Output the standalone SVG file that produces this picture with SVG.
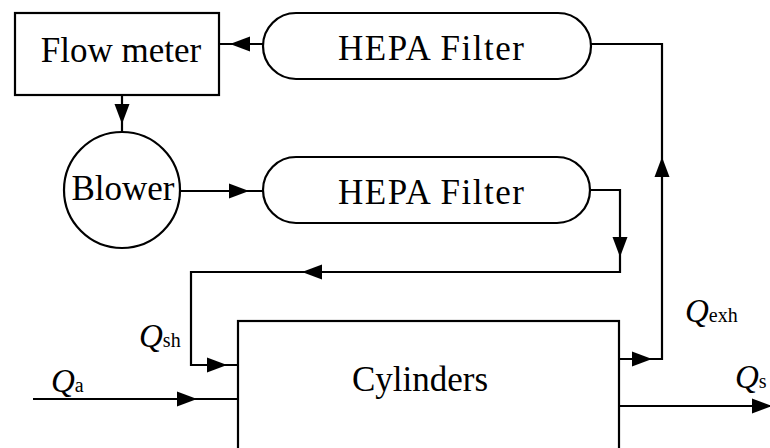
<svg xmlns="http://www.w3.org/2000/svg" xmlns:xlink="http://www.w3.org/1999/xlink" width="770" height="448" viewBox="0 0 770 448">
<style>
.box{fill:#fff;stroke:#000;stroke-width:2.2}
.ln{fill:none;stroke:#000;stroke-width:2.2}
text{font-family:'Liberation Serif','Times New Roman',Tinos,'DejaVu Serif',serif;fill:#000}
.lbl{font-size:35px;text-anchor:middle}
.q{font-size:33px;font-style:italic}
.sub{font-size:20px;font-style:normal}
</style>
<defs>
<path id="ah" d="M0,0 L-20,-7.5 L-20,7.5 Z" fill="#000"/>
</defs>
<rect width="770" height="448" fill="#fff"/>
<g id="connectors">
<path class="ln" d="M219,44 H263"/>
<path class="ln" d="M122,95 V132"/>
<path class="ln" d="M181,191 H263"/>
<path class="ln" d="M591,44 H662 V359 H619"/>
<path class="ln" d="M590,190 H620 V272 H191 V365 H238"/>
<path class="ln" d="M33,399 H238"/>
<path class="ln" d="M619,406 H770"/>
<use xlink:href="#ah" transform="translate(230,44) rotate(180)"/>
<use xlink:href="#ah" transform="translate(122,124) rotate(90)"/>
<use xlink:href="#ah" transform="translate(249,191)"/>
<use xlink:href="#ah" transform="translate(620,257) rotate(90)"/>
<use xlink:href="#ah" transform="translate(302,272) rotate(180)"/>
<use xlink:href="#ah" transform="translate(227,365)"/>
<use xlink:href="#ah" transform="translate(197,399)"/>
<use xlink:href="#ah" transform="translate(652,359)"/>
<use xlink:href="#ah" transform="translate(662,157) rotate(-90)"/>
<use xlink:href="#ah" transform="translate(772,406)"/>
</g>
<g id="flow-meter">
<rect class="box" x="15" y="13" width="204" height="82"/>
<text class="lbl" x="121" y="62">Flow meter</text>
</g>
<g id="hepa-filter-top">
<rect class="box" x="263" y="13" width="328" height="66" rx="33" ry="33"/>
<text class="lbl" x="431" y="60" textLength="186" lengthAdjust="spacing">HEPA Filter</text>
</g>
<g id="blower">
<circle class="box" cx="122" cy="190" r="58"/>
<text class="lbl" x="123" y="200">Blower</text>
</g>
<g id="hepa-filter-bottom">
<rect class="box" x="263" y="157" width="327" height="66" rx="33" ry="33"/>
<text class="lbl" x="431" y="204" textLength="186" lengthAdjust="spacing">HEPA Filter</text>
</g>
<g id="cylinders">
<rect class="box" x="238" y="321" width="381" height="140"/>
<text class="lbl" x="420" y="391">Cylinders</text>
</g>
<g id="labels">
<text class="q" x="139" y="347">Q<tspan class="sub">sh</tspan></text>
<text class="q" x="51" y="392">Q<tspan class="sub">a</tspan></text>
<text class="q" x="685" y="322">Q<tspan class="sub">exh</tspan></text>
<text class="q" x="735" y="388">Q<tspan class="sub">s</tspan></text>
</g>
</svg>
